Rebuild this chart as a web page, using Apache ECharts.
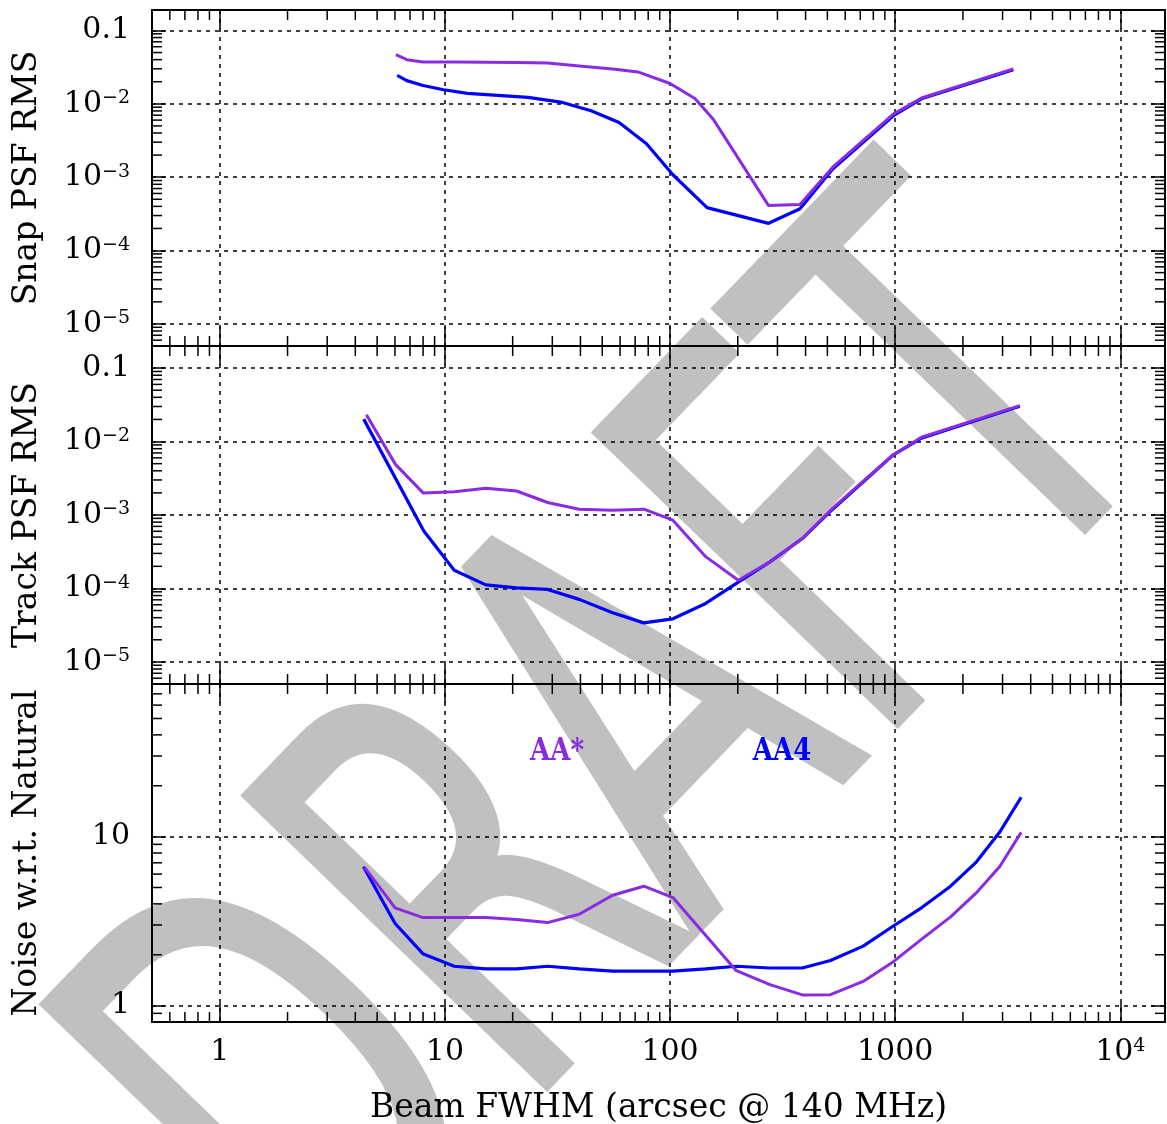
<!DOCTYPE html>
<html>
<head>
<meta charset="utf-8">
<script src="https://cdn.jsdelivr.net/npm/echarts@6/dist/echarts.min.js"></script>
<style>
  html, body { margin: 0; padding: 0; background: #ffffff; }
  #chart { width: 1167px; height: 1124px; }
</style>
</head>
<body>
<div id="chart"></div>
<script>
// Beam FWHM (arcsec @ 140 MHz) sample points and results per panel / array configuration

// Snap PSF RMS
const snapBeamAAstar = [6.06, 6.77, 7.98, 11.0, 15.2, 20.8, 28.6, 39.5, 55.6, 72.0, 100, 129, 156, 274, 378, 528, 982, 1309, 3350];
const snapRmsAAstar  = [0.0467, 0.0400, 0.0371, 0.0371, 0.0370, 0.0365, 0.0359, 0.0328, 0.0298, 0.0272, 0.0189, 0.0118, 0.0061, 4.1e-4, 4.25e-4, 1.37e-3, 7.24e-3, 0.0120, 0.0300];
const snapBeamAA4    = [6.14, 6.77, 8.0, 9.87, 12.6, 23.4, 32.7, 44.6, 59.4, 78.6, 103, 146, 274, 378, 528, 982, 1309, 3350];
const snapRmsAA4     = [0.0244, 0.0207, 0.0178, 0.01555, 0.01387, 0.01222, 0.01056, 0.00805, 0.00558, 0.00286, 1.08e-3, 3.85e-4, 2.35e-4, 3.72e-4, 1.29e-3, 6.89e-3, 0.0117, 0.0291];

// Track PSF RMS
const trackBeamAAstar = [4.48, 6.03, 8.0, 11.0, 15.2, 20.8, 28.6, 39.5, 55.6, 76.5, 103, 144, 201, 278, 387, 528, 982, 1309, 3580];
const trackRmsAAstar  = [0.0231, 4.89e-3, 2.0e-3, 2.07e-3, 2.32e-3, 2.12e-3, 1.48e-3, 1.20e-3, 1.16e-3, 1.20e-3, 8.5e-4, 2.71e-4, 1.29e-4, 2.30e-4, 4.78e-4, 1.24e-3, 6.62e-3, 0.01143, 0.0309];
const trackBeamAA4    = [4.36, 8.06, 11.0, 15.2, 20.8, 28.6, 39.5, 55.6, 76.5, 103, 144, 201, 278, 387, 528, 982, 1309, 3580];
const trackRmsAA4     = [0.0202, 6.04e-4, 1.77e-4, 1.12e-4, 1.02e-4, 9.7e-5, 7.1e-5, 4.67e-5, 3.40e-5, 3.86e-5, 6.25e-5, 1.22e-4, 2.30e-4, 4.78e-4, 1.20e-3, 6.60e-3, 0.0111, 0.0303];

// Noise relative to natural weighting
const noiseBeamAAstar = [4.40, 6.01, 7.98, 11.0, 15.2, 20.8, 28.6, 39.5, 55.6, 76.5, 103, 197, 278, 387, 516, 721, 982, 1321, 1763, 2280, 2910, 3630];
const noiseAAstar     = [6.58, 3.79, 3.32, 3.32, 3.32, 3.23, 3.10, 3.47, 4.50, 5.09, 4.36, 1.61, 1.33, 1.157, 1.16, 1.39, 1.82, 2.49, 3.35, 4.61, 6.64, 10.6];
const noiseBeamAA4    = [4.35, 6.01, 7.98, 11.0, 15.2, 20.8, 28.6, 39.5, 55.6, 76.5, 103, 144, 197, 278, 387, 516, 721, 982, 1309, 1763, 2280, 2910, 3630];
const noiseAA4        = [6.64, 3.06, 2.03, 1.71, 1.65, 1.65, 1.71, 1.65, 1.60, 1.60, 1.60, 1.65, 1.71, 1.67, 1.67, 1.85, 2.25, 2.96, 3.79, 5.09, 7.01, 10.6, 17.1];

// Axis text
const beamAxisName = 'Beam FWHM (arcsec @ 140 MHz)';
const panelNames = ['Snap PSF RMS', 'Track PSF RMS', 'Noise w.r.t. Natural'];
const seriesNames = ['AA*', 'AA4'];

const COLOR_AASTAR = '#8a2be2';
const COLOR_AA4 = '#0000ff';
const FONT = 'DejaVu Serif';

const X_MIN = 0.5, X_MAX = 15800;
const panels = [
  { top: 10,  height: 336, yMin: 5e-6, yMax: 0.19, fmt: 'rms' },
  { top: 346, height: 338, yMin: 5e-6, yMax: 0.2,  fmt: 'rms' },
  { top: 684, height: 338, yMin: 0.8,  yMax: 80,   fmt: 'noise' }
];

function decadeOf(v) {
  const l = Math.log10(v), e = Math.round(l);
  return Math.abs(l - e) < 1e-6 ? e : null;
}
function fmtRms(v) {
  const e = decadeOf(v);
  if (e === null) return '';
  if (e === -1) return '0.1';
  if (e === 0) return '1';
  return '10{s|\u2212' + (-e) + '}';
}
function fmtNoise(v) {
  const e = decadeOf(v);
  if (e === null) return '';
  if (e === 0) return '1';
  if (e === 1) return '10';
  return '10{s|' + e + '}';
}
function fmtBeam(v) {
  const e = decadeOf(v);
  if (e === null) return '';
  if (e >= 0 && e <= 3) return String(Math.round(Math.pow(10, e)));
  return '10{s|' + e + '}';
}

// 2..9 multiples of each decade strictly inside (lo, hi)
function minorValues(lo, hi) {
  const out = [];
  for (let k = Math.floor(Math.log10(lo)) - 1; k <= Math.ceil(Math.log10(hi)); k++) {
    for (let m = 2; m <= 9; m++) {
      const v = m * Math.pow(10, k);
      if (v > lo * 1.0001 && v < hi * 0.9999) out.push(v);
    }
  }
  return out;
}

const richSup = { s: { fontSize: 19, fontFamily: FONT, color: '#000', verticalAlign: 'top' } };
const frameLine = { show: true, onZero: false, lineStyle: { color: '#000', width: 2 } };
const dotted = { show: true, lineStyle: { color: '#000', width: 1.5, type: [4, 5] } };

const TICK_X_MAJOR = 19, TICK_X_MINOR = 10, TICK_Y_MAJOR = 14, TICK_Y_MINOR = 10;

const grids = [], xAxes = [], yAxes = [], series = [];

panels.forEach((p, i) => {
  grids.push({ left: 152, top: p.top, width: 1013, height: p.height,
    containLabel: false, outerBoundsMode: 'none', show: false });

  const isBottom = i === panels.length - 1;
  xAxes.push({
    type: 'log', logBase: 10, gridIndex: i, position: 'bottom', min: X_MIN, max: X_MAX,
    axisLine: frameLine,
    axisTick: { show: true, inside: true, length: TICK_X_MAJOR, lineStyle: { color: '#000', width: 1.5 } },
    axisLabel: { show: isBottom, formatter: fmtBeam, margin: 15, color: '#000',
      fontFamily: FONT, fontSize: 30, rich: richSup, showMinLabel: true, showMaxLabel: true, hideOverlap: false },
    splitLine: dotted,
    name: isBottom ? beamAxisName : '', nameLocation: 'middle', nameGap: 70,
    nameTextStyle: { fontFamily: FONT, fontSize: 33, color: '#000' },
    z: 3
  });
  xAxes.push({
    type: 'log', logBase: 10, gridIndex: i, position: 'top', min: X_MIN, max: X_MAX,
    axisLine: frameLine,
    axisTick: { show: true, inside: true, length: TICK_X_MAJOR, lineStyle: { color: '#000', width: 1.5 } },
    axisLabel: { show: false }, splitLine: { show: false }, z: 3
  });

  const fmt = p.fmt === 'rms' ? fmtRms : fmtNoise;
  yAxes.push({
    type: 'log', logBase: 10, gridIndex: i, position: 'left', min: p.yMin, max: p.yMax,
    splitNumber: p.fmt === 'rms' ? 5 : 2,
    axisLine: frameLine,
    axisTick: { show: true, inside: true, length: TICK_Y_MAJOR, lineStyle: { color: '#000', width: 1.5 } },
    axisLabel: { show: true, formatter: fmt, margin: 22, color: '#000', fontFamily: FONT, fontSize: 30,
      rich: richSup, showMinLabel: true, showMaxLabel: true, hideOverlap: false },
    splitLine: dotted,
    name: panelNames[i], nameLocation: 'middle', nameGap: 108,
    nameTextStyle: { fontFamily: FONT, fontSize: 33, color: '#000' },
    z: 3
  });
  yAxes.push({
    type: 'log', logBase: 10, gridIndex: i, position: 'right', min: p.yMin, max: p.yMax,
    splitNumber: p.fmt === 'rms' ? 5 : 2,
    axisLine: frameLine,
    axisTick: { show: true, inside: true, length: TICK_Y_MAJOR, lineStyle: { color: '#000', width: 1.5 } },
    axisLabel: { show: false }, splitLine: { show: false }, z: 3
  });

  // minor ticks on all four sides, placed through the panel's own log scales
  const yRef = Math.sqrt(p.yMin * p.yMax);
  const tickData = [];
  minorValues(X_MIN, X_MAX).forEach(v => tickData.push([v, yRef, 0]));
  minorValues(p.yMin, p.yMax).forEach(v => tickData.push([1, v, 1]));
  series.push({
    type: 'custom', xAxisIndex: 2 * i, yAxisIndex: 2 * i, silent: true, clip: false, z: 4,
    data: tickData,
    renderItem: function (params, api) {
      const cs = params.coordSys;
      const pt = api.coord([api.value(0), api.value(1)]);
      const st = { stroke: '#000', lineWidth: 1.5 };
      if (api.value(2) === 0) {
        const x = pt[0], yb = cs.y + cs.height, yt = cs.y;
        return { type: 'group', children: [
          { type: 'line', shape: { x1: x, y1: yb, x2: x, y2: yb - TICK_X_MINOR }, style: st },
          { type: 'line', shape: { x1: x, y1: yt, x2: x, y2: yt + TICK_X_MINOR }, style: st }
        ] };
      }
      const y = pt[1], xl = cs.x, xr = cs.x + cs.width;
      return { type: 'group', children: [
        { type: 'line', shape: { x1: xl, y1: y, x2: xl + TICK_Y_MINOR, y2: y }, style: st },
        { type: 'line', shape: { x1: xr, y1: y, x2: xr - TICK_Y_MINOR, y2: y }, style: st }
      ] };
    }
  });
});

function pairs(xs, ys) { return xs.map((x, k) => [x, ys[k]]); }
function curve(i, name, color, width, xs, ys) {
  return {
    type: 'line', name: name, xAxisIndex: 2 * i, yAxisIndex: 2 * i,
    data: pairs(xs, ys), showSymbol: false, symbol: 'none', smooth: false,
    lineStyle: { color: color, width: width }, itemStyle: { color: color },
    z: 5, silent: true, animation: false
  };
}
series.push(curve(0, seriesNames[1], COLOR_AA4, 3.2, snapBeamAA4, snapRmsAA4));
series.push(curve(0, seriesNames[0], COLOR_AASTAR, 3, snapBeamAAstar, snapRmsAAstar));
series.push(curve(1, seriesNames[1], COLOR_AA4, 3.2, trackBeamAA4, trackRmsAA4));
series.push(curve(1, seriesNames[0], COLOR_AASTAR, 3, trackBeamAAstar, trackRmsAAstar));
series.push(curve(2, seriesNames[1], COLOR_AA4, 3.2, noiseBeamAA4, noiseAA4));
series.push(curve(2, seriesNames[0], COLOR_AASTAR, 3, noiseBeamAAstar, noiseAAstar));

const chart = echarts.init(document.getElementById('chart'), null, { renderer: 'canvas' });
chart.setOption({
  animation: false,
  backgroundColor: '#ffffff',
  grid: grids,
  xAxis: xAxes,
  yAxis: yAxes,
  series: series,
  graphic: [
    {
      // watermark, kept beneath everything else
      type: 'text', z: -10, silent: true,
      x: 640, y: 776, rotation: 46 * Math.PI / 180, scaleX: 0.65, scaleY: 1,
      style: { text: 'DRAFT', fontFamily: 'DejaVu Sans', fontSize: 580,
        fill: '#c0c0c0', stroke: '#c0c0c0', lineWidth: 4,
        align: 'center', verticalAlign: 'middle', textAlign: 'center', textVerticalAlign: 'middle' }
    },
    {
      type: 'text', z: 10, silent: true, x: 557, y: 752, scaleX: 0.84,
      style: { text: seriesNames[0], fontFamily: FONT, fontWeight: 'bold', fontSize: 31, fill: COLOR_AASTAR,
        align: 'center', verticalAlign: 'middle', textAlign: 'center', textVerticalAlign: 'middle' }
    },
    {
      type: 'text', z: 10, silent: true, x: 782, y: 752, scaleX: 0.84,
      style: { text: seriesNames[1], fontFamily: FONT, fontWeight: 'bold', fontSize: 31, fill: COLOR_AA4,
        align: 'center', verticalAlign: 'middle', textAlign: 'center', textVerticalAlign: 'middle' }
    }
  ]
});
</script>
</body>
</html>
